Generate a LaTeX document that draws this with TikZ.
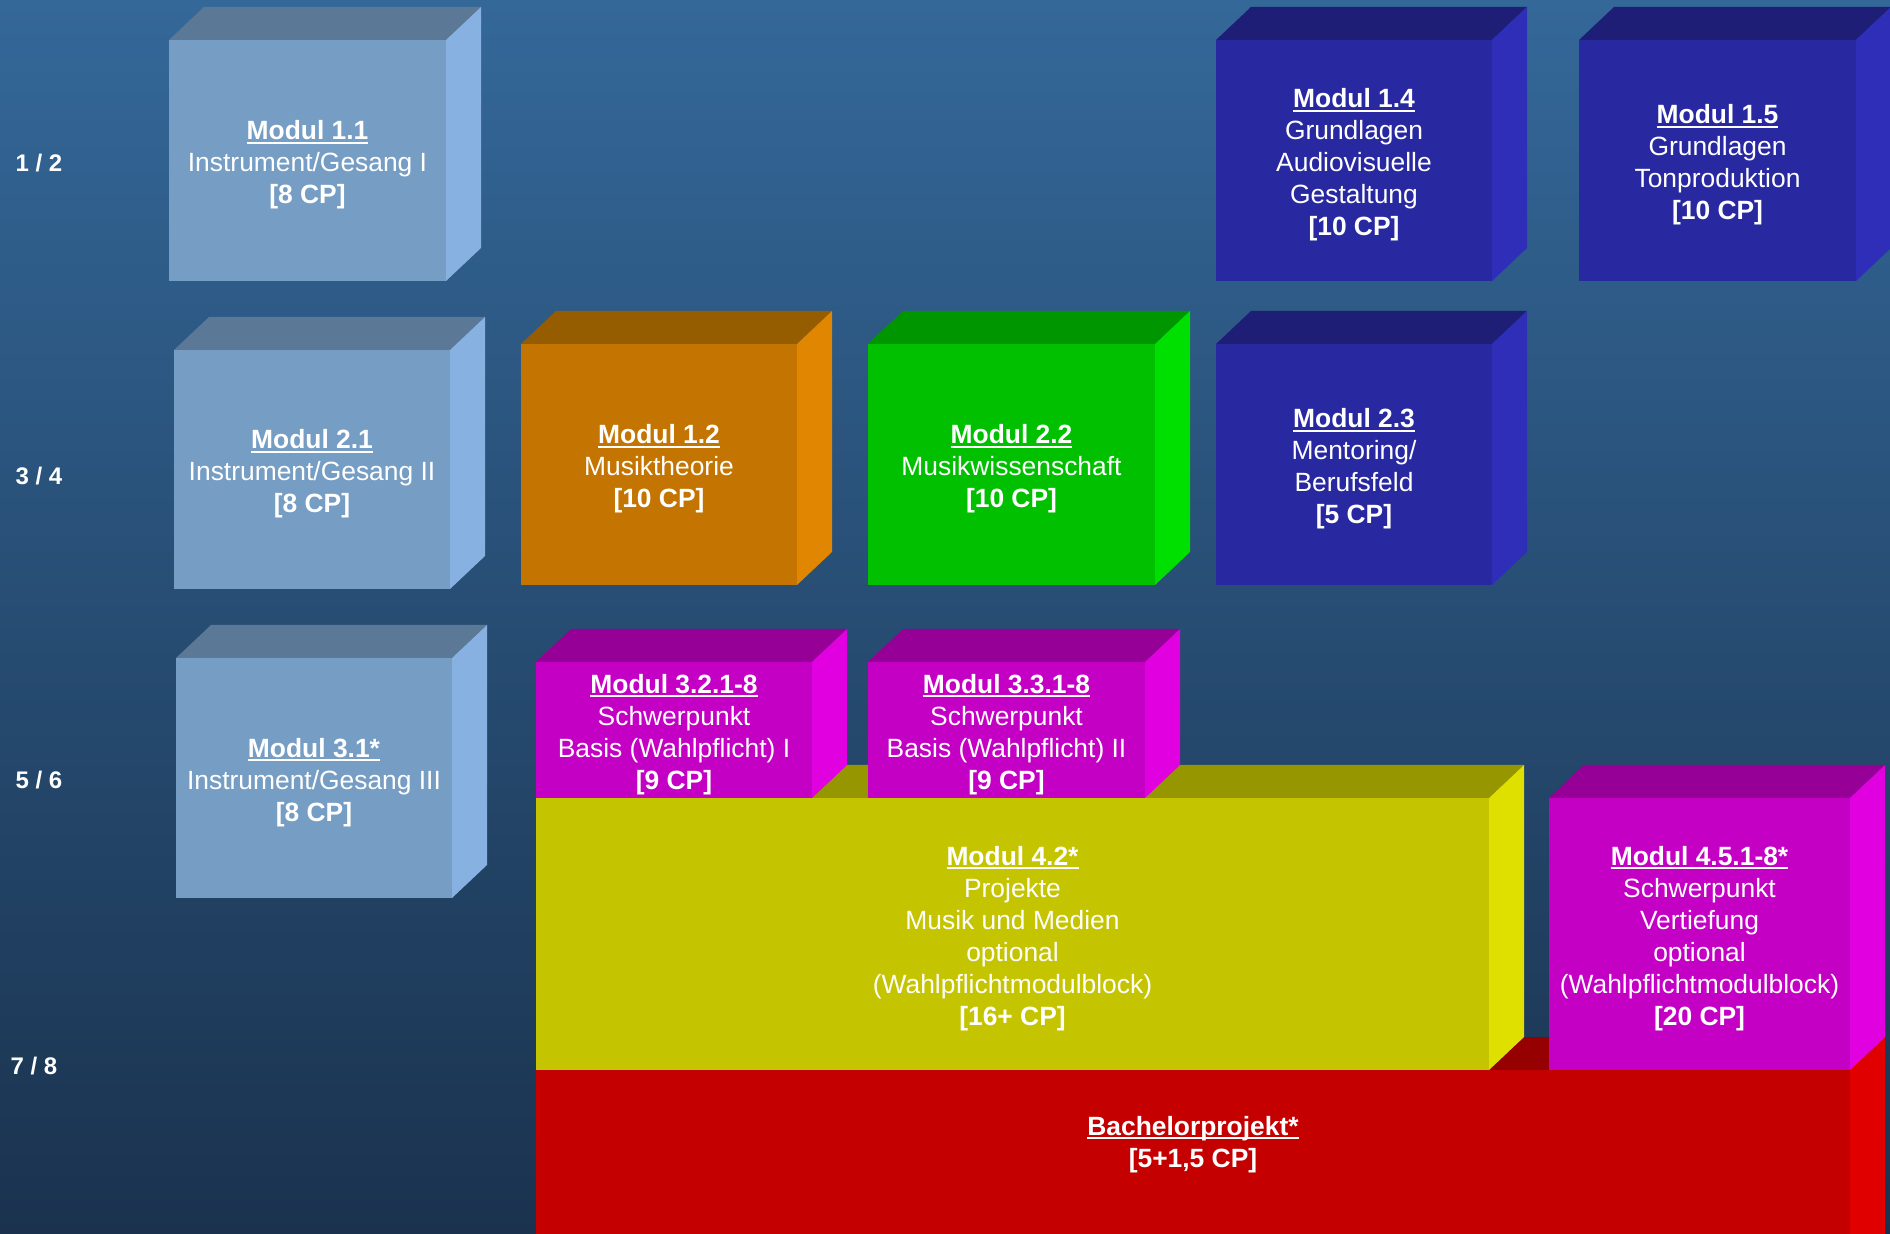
\documentclass[tikz,border=0pt]{standalone}
\usepackage{fontspec}
\setmainfont{Liberation Sans}
\definecolor{bgtop}{RGB}{52,104,153}
\definecolor{bgbot}{RGB}{26,50,78}
\definecolor{lbF}{HTML}{769DC4}\definecolor{lbT}{HTML}{5B7896}\definecolor{lbS}{HTML}{87B1E1}
\definecolor{dbF}{HTML}{2828A0}\definecolor{dbT}{HTML}{1E1E76}\definecolor{dbS}{HTML}{2E2EB8}
\definecolor{orF}{HTML}{C47400}\definecolor{orT}{HTML}{955D00}\definecolor{orS}{HTML}{E08600}
\definecolor{grF}{HTML}{00C000}\definecolor{grT}{HTML}{009600}\definecolor{grS}{HTML}{00E000}
\definecolor{mgF}{HTML}{C400C4}\definecolor{mgT}{HTML}{960096}\definecolor{mgS}{HTML}{E000E0}
\definecolor{yeF}{HTML}{C4C400}\definecolor{yeT}{HTML}{969600}\definecolor{yeS}{HTML}{E0E000}
\definecolor{rdF}{HTML}{C40000}\definecolor{rdT}{HTML}{960000}\definecolor{rdS}{HTML}{E00000}
\tikzset{
  txt/.style={text=white, align=center, font=\fontsize{13.2}{16}\selectfont, inner sep=0pt, yshift=-2.2pt},
  sem/.style={text=white, font=\fontsize{12}{14}\selectfont\bfseries, inner sep=0pt}
}
% name, x1, y1, x2, y2, colour prefix, text
\newcommand\modbox[7]{%
  \fill[#6F] (#2,#3) rectangle (#4,#5);
  \fill[#6T] (#2,#3) -- (#2+35,#3-33) -- (#4+35,#3-33) -- (#4,#3) -- cycle;
  \fill[#6S] (#4,#3) -- (#4+35,#3-33) -- (#4+35,#5-33) -- (#4,#5) -- cycle;
  \node[txt] (#1) at ({(#2+#4)/2},{(#3+#5)/2}) {#7};
}
\newcommand\ttl[1]{{\bfseries\setbox0\hbox{#1}\rlap{\rule[-1.9pt]{\wd0}{0.9pt}}\box0}}
\begin{document}
\begin{tikzpicture}[x=0.5pt,y=-0.5pt]
\useasboundingbox (0,0) rectangle (1890,1234);
\clip (0,0) rectangle (1890,1234);
\shade[top color=bgtop, bottom color=bgbot] (0,0) rectangle (1890,1234);

\node[sem] (s12) at (39,163) {1 / 2};
\node[sem] (s34) at (39,476) {3 / 4};
\node[sem] (s56) at (39,780) {5 / 6};
\node[sem] (s78) at (34,1066) {7 / 8};

% row 1
\modbox{m11}{169}{40}{446}{281}{lb}{\ttl{Modul 1.1}\\Instrument/Gesang I\\\textbf{[8 CP]}}
\modbox{m14}{1216}{40}{1492}{281}{db}{\ttl{Modul 1.4}\\Grundlagen\\Audiovisuelle\\Gestaltung\\\textbf{[10 CP]}}
\modbox{m15}{1579}{40}{1856}{281}{db}{\ttl{Modul 1.5}\\Grundlagen\\Tonproduktion\\\textbf{[10 CP]}}

% row 2
\modbox{m21}{174}{350}{450}{589}{lb}{\ttl{Modul 2.1}\\Instrument/Gesang II\\\textbf{[8 CP]}}
\modbox{m12}{521}{344}{797}{585}{or}{\ttl{Modul 1.2}\\Musiktheorie\\\textbf{[10 CP]}}
\modbox{m22}{868}{344}{1155}{585}{gr}{\ttl{Modul 2.2}\\Musikwissenschaft\\\textbf{[10 CP]}}
\modbox{m23}{1216}{344}{1492}{585}{db}{\ttl{Modul 2.3}\\Mentoring/\\Berufsfeld\\\textbf{[5 CP]}}

% row 3
\modbox{m31}{176}{658}{452}{898}{lb}{\ttl{Modul 3.1*}\\Instrument/Gesang III\\\textbf{[8 CP]}}

% bachelor (behind)
\fill[rdF] (536,1070) rectangle (1850,1290);
\fill[rdT] (536,1070) -- (571,1037) -- (1885,1037) -- (1850,1070) -- cycle;
\fill[rdS] (1850,1070) -- (1885,1037) -- (1885,1257) -- (1850,1290) -- cycle;
\node[txt] (bp) at (1193,1140) {\ttl{Bachelorprojekt*}\\\textbf{[5+1,5 CP]}};

\modbox{m42}{536}{798}{1489}{1070}{ye}{\ttl{Modul 4.2*}\\Projekte\\Musik und Medien\\optional\\(Wahlpflichtmodulblock)\\\textbf{[16+ CP]}}
\modbox{m45}{1549}{798}{1850}{1070}{mg}{\ttl{Modul 4.5.1-8*}\\Schwerpunkt\\Vertiefung\\optional\\(Wahlpflichtmodulblock)\\\textbf{[20 CP]}}

\modbox{m32}{536}{662}{812}{798}{mg}{\ttl{Modul 3.2.1-8}\\Schwerpunkt\\Basis (Wahlpflicht) I\\\textbf{[9 CP]}}
\modbox{m33}{868}{662}{1145}{798}{mg}{\ttl{Modul 3.3.1-8}\\Schwerpunkt\\Basis (Wahlpflicht) II\\\textbf{[9 CP]}}
\end{tikzpicture}
\end{document}
